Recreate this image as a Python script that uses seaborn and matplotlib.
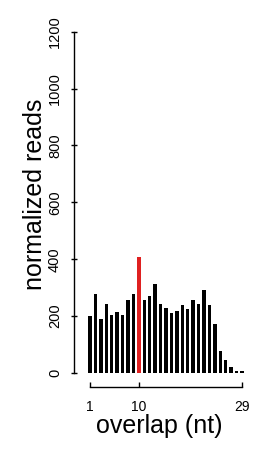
import matplotlib
matplotlib.use('Agg')
import matplotlib.pyplot as plt
import seaborn as sns
import pandas as pd

# overlap length (nt) and normalized read counts
overlap = list(range(1, 30))
reads = [201, 278, 189, 244, 204, 216, 204, 257, 277, 409,
         257, 271, 314, 242, 228, 210, 219, 239, 224, 257,
         244, 292, 239, 172, 77, 46, 20, 8, 7]
highlight_nt = 10
xticks = [1, 10, 29]
yticks = [0, 200, 400, 600, 800, 1000, 1200]

sns.set_style('white')
plt.rcParams['font.family'] = ['Liberation Sans', 'DejaVu Sans']
plt.rcParams['text.color'] = 'black'
plt.rcParams['axes.labelcolor'] = 'black'
plt.rcParams['xtick.color'] = 'black'
plt.rcParams['ytick.color'] = 'black'

df = pd.DataFrame({'overlap': overlap, 'reads': reads})
df['pingpong'] = df['overlap'] == highlight_nt

W, H = 261, 451
fig = plt.figure(figsize=(W / 100, H / 100), dpi=100)
ax = fig.add_axes([73.5 / W, 78 / H, 171.2 / W, 341.3 / H])

sns.barplot(data=df, x='overlap', y='reads', hue='pingpong',
            palette={False: 'black', True: 'red'}, native_scale=True,
            width=0.62, linewidth=0, dodge=False, errorbar=None,
            legend=False, ax=ax)

ax.set_xlim(-2.04, 29.5)
ax.set_ylim(0, 1200)
ax.set_xticks(xticks)
ax.set_xticklabels([str(t) for t in xticks], fontsize=10.5)
ax.set_yticks(yticks)
ax.set_yticklabels([str(t) for t in yticks], fontsize=10.5,
                   rotation=90, va='center')

for side in ['top', 'right']:
    ax.spines[side].set_visible(False)
for side in ['left', 'bottom']:
    ax.spines[side].set_color('black')
    ax.spines[side].set_linewidth(1.0)
ax.spines['bottom'].set_position(('outward', 10))
ax.spines['bottom'].set_bounds(1, 29)
ax.spines['left'].set_bounds(0, 1200)

ax.tick_params(axis='x', direction='in', length=3.6, width=1.0,
               colors='black', pad=9.7, bottom=True)
ax.tick_params(axis='y', direction='inout', length=4, width=1.0,
               colors='black', pad=6.3, left=True)

ax.set_xlabel('overlap (nt)', fontsize=18, color='black')
ax.set_ylabel('normalized reads', fontsize=18, color='black')
ax.xaxis.set_label_coords(0.5, -0.12)
ax.yaxis.set_label_coords(-0.155, 0.524)

plt.savefig('out.png', dpi=100)
